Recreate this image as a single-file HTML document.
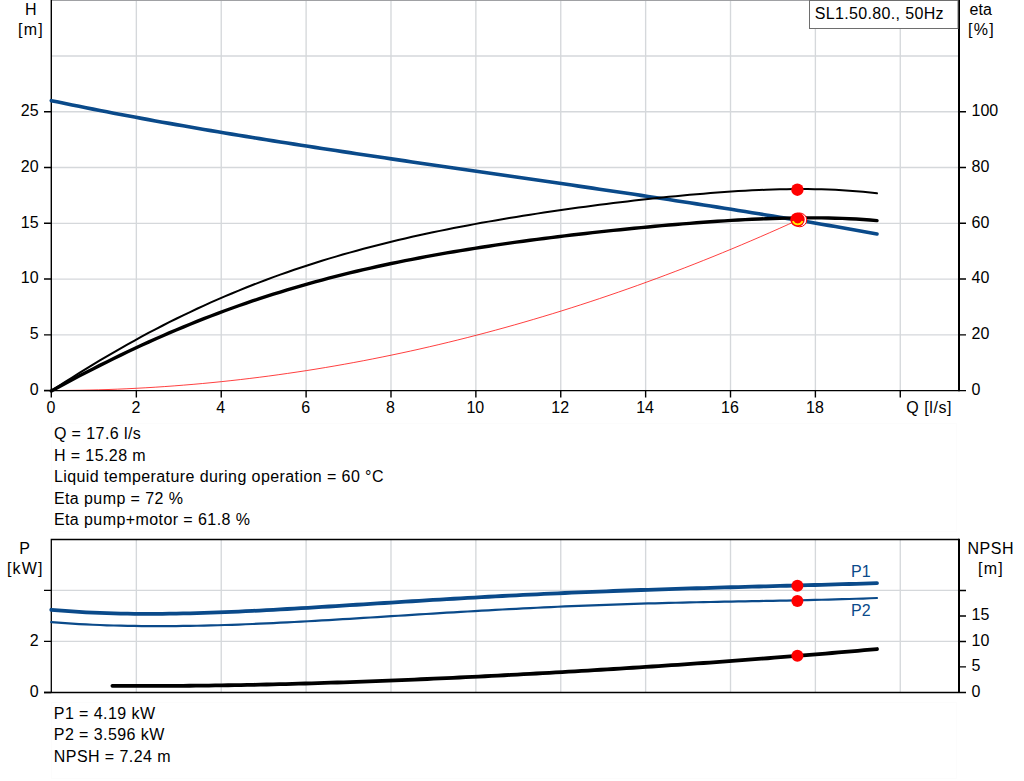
<!DOCTYPE html>
<html><head><meta charset="utf-8"><title>SL1.50.80., 50Hz</title>
<style>
html,body{margin:0;padding:0;background:#fff;width:1024px;height:781px;overflow:hidden}
svg{display:block}
text{font-family:"Liberation Sans",Arial,sans-serif;font-size:16px;fill:#000}
.ls{letter-spacing:0.4px}
</style></head><body>
<svg width="1024" height="781" viewBox="0 0 1024 781">

<rect x="51.5" y="423.5" width="905" height="108" fill="none" stroke="#fcfcfc" stroke-width="1"/>
<rect x="51.5" y="702.5" width="905" height="76" fill="none" stroke="#fcfcfc" stroke-width="1"/>
<path d="M136.35,0 V390 M221.23,0 V390 M306.11,0 V390 M390.99,0 V390 M475.87,0 V390 M560.75,0 V390 M645.63,0 V390 M730.51,0 V390 M815.39,0 V390 M900.27,0 V390 M52,334.84 H958 M52,279.07 H958 M52,223.31 H958 M52,167.54 H958 M52,111.78 H958 M52,56.01 H958" stroke="#d5d8db" stroke-width="1.35" fill="none"/>
<path d="M136.35,540 V692 M221.23,540 V692 M306.11,540 V692 M390.99,540 V692 M475.87,540 V692 M560.75,540 V692 M645.63,540 V692 M730.51,540 V692 M815.39,540 V692 M900.27,540 V692 M52,641.35 H958 M52,590.35 H958" stroke="#d5d8db" stroke-width="1.35" fill="none"/>
<path d="M51.30,390.50 L60.75,390.47 L70.21,390.39 L79.66,390.25 L89.11,390.06 L98.56,389.82 L108.02,389.52 L117.47,389.16 L126.92,388.75 L136.37,388.29 L145.83,387.77 L155.28,387.19 L164.73,386.57 L174.19,385.88 L183.64,385.14 L193.09,384.35 L202.54,383.51 L212.00,382.60 L221.45,381.65 L230.90,380.64 L240.36,379.57 L249.81,378.45 L259.26,377.28 L268.71,376.05 L278.17,374.76 L287.62,373.42 L297.07,372.03 L306.52,370.58 L315.98,369.08 L325.43,367.52 L334.88,365.91 L344.34,364.24 L353.79,362.52 L363.24,360.75 L372.69,358.91 L382.15,357.03 L391.60,355.09 L401.05,353.09 L410.50,351.05 L419.96,348.94 L429.41,346.78 L438.86,344.57 L448.32,342.30 L457.77,339.98 L467.22,337.60 L476.67,335.17 L486.13,332.68 L495.58,330.14 L505.03,327.55 L514.49,324.90 L523.94,322.19 L533.39,319.43 L542.84,316.62 L552.30,313.75 L561.75,310.83 L571.20,307.85 L580.65,304.82 L590.11,301.73 L599.56,298.59 L609.01,295.39 L618.47,292.14 L627.92,288.83 L637.37,285.47 L646.82,282.05 L656.28,278.58 L665.73,275.06 L675.18,271.48 L684.63,267.85 L694.09,264.16 L703.54,260.42 L712.99,256.62 L722.45,252.76 L731.90,248.86 L741.35,244.90 L750.80,240.88 L760.26,236.81 L769.71,232.68 L779.16,228.50 L788.62,224.27 L798.07,219.98" stroke="#ff0000" stroke-width="0.75" fill="none"/>
<rect x="52" y="0" width="906" height="1" fill="#a0a1a4"/>
<path d="M51.3,0 V391.2" stroke="#000" stroke-width="1.4" fill="none"/>
<path d="M959,0 V391.2" stroke="#000" stroke-width="2" fill="none"/>
<path d="M44,390.55 H966" stroke="#000" stroke-width="1.3" fill="none"/>
<path d="M44,334.84 H51.3 M959,334.84 H966 M44,279.07 H51.3 M959,279.07 H966 M44,223.31 H51.3 M959,223.31 H966 M44,167.54 H51.3 M959,167.54 H966 M44,111.78 H51.3 M959,111.78 H966 M44,390.55 H51.3 M136.35,390 V397.6 M221.23,390 V397.6 M306.11,390 V397.6 M390.99,390 V397.6 M475.87,390 V397.6 M560.75,390 V397.6 M645.63,390 V397.6 M730.51,390 V397.6 M815.39,390 V397.6 M900.27,390 V397.6 M51.3,390 V397.6" stroke="#000" stroke-width="1.4" fill="none"/>
<path d="M51.30,100.65 L58.24,102.09 L65.18,103.53 L72.12,104.94 L79.05,106.35 L85.99,107.74 L92.93,109.11 L99.87,110.47 L106.81,111.82 L113.75,113.15 L120.69,114.47 L127.62,115.78 L134.56,117.08 L141.50,118.37 L148.44,119.64 L155.38,120.90 L162.32,122.15 L169.26,123.39 L176.19,124.62 L183.13,125.84 L190.07,127.05 L197.01,128.24 L203.95,129.43 L210.89,130.61 L217.83,131.78 L224.76,132.95 L231.70,134.10 L238.64,135.24 L245.58,136.38 L252.52,137.51 L259.46,138.63 L266.40,139.75 L273.33,140.86 L280.27,141.96 L287.21,143.05 L294.15,144.14 L301.09,145.22 L308.03,146.30 L314.97,147.37 L321.90,148.43 L328.84,149.50 L335.78,150.55 L342.72,151.60 L349.66,152.65 L356.60,153.69 L363.53,154.73 L370.47,155.76 L377.41,156.80 L384.35,157.82 L391.29,158.85 L398.23,159.87 L405.17,160.89 L412.10,161.91 L419.04,162.92 L425.98,163.93 L432.92,164.95 L439.86,165.95 L446.80,166.96 L453.74,167.97 L460.67,168.97 L467.61,169.98 L474.55,170.98 L481.49,171.99 L488.43,172.99 L495.37,174.00 L502.31,175.00 L509.24,176.00 L516.18,177.01 L523.12,178.01 L530.06,179.02 L537.00,180.03 L543.94,181.03 L550.88,182.04 L557.81,183.06 L564.75,184.07 L571.69,185.08 L578.63,186.10 L585.57,187.12 L592.51,188.14 L599.45,189.17 L606.38,190.20 L613.32,191.23 L620.26,192.26 L627.20,193.30 L634.14,194.34 L641.08,195.38 L648.02,196.43 L654.95,197.48 L661.89,198.53 L668.83,199.59 L675.77,200.66 L682.71,201.72 L689.65,202.80 L696.59,203.87 L703.52,204.95 L710.46,206.04 L717.40,207.13 L724.34,208.23 L731.28,209.33 L738.22,210.44 L745.16,211.55 L752.09,212.67 L759.03,213.80 L765.97,214.93 L772.91,216.07 L779.85,217.21 L786.79,218.36 L793.73,219.51 L800.66,220.68 L807.60,221.85 L814.54,223.02 L821.48,224.20 L828.42,225.39 L835.36,226.59 L842.30,227.79 L849.23,229.00 L856.17,230.22 L863.11,231.45 L870.05,232.68 L876.99,233.92" stroke="#0a4a8a" stroke-width="3.6" fill="none" stroke-linecap="round"/>
<path d="M51.30,390.93 L58.24,386.40 L65.18,381.93 L72.12,377.51 L79.05,373.15 L85.99,368.85 L92.93,364.61 L99.87,360.43 L106.81,356.32 L113.75,352.27 L120.69,348.28 L127.62,344.36 L134.56,340.51 L141.50,336.72 L148.44,332.99 L155.38,329.34 L162.32,325.74 L169.26,322.22 L176.19,318.76 L183.13,315.37 L190.07,312.04 L197.01,308.78 L203.95,305.59 L210.89,302.46 L217.83,299.39 L224.76,296.39 L231.70,293.46 L238.64,290.59 L245.58,287.78 L252.52,285.03 L259.46,282.34 L266.40,279.72 L273.33,277.15 L280.27,274.64 L287.21,272.19 L294.15,269.80 L301.09,267.46 L308.03,265.18 L314.97,262.96 L321.90,260.78 L328.84,258.66 L335.78,256.59 L342.72,254.57 L349.66,252.59 L356.60,250.67 L363.53,248.79 L370.47,246.96 L377.41,245.17 L384.35,243.42 L391.29,241.72 L398.23,240.05 L405.17,238.43 L412.10,236.84 L419.04,235.29 L425.98,233.78 L432.92,232.30 L439.86,230.86 L446.80,229.45 L453.74,228.07 L460.67,226.72 L467.61,225.40 L474.55,224.11 L481.49,222.85 L488.43,221.61 L495.37,220.40 L502.31,219.21 L509.24,218.05 L516.18,216.91 L523.12,215.80 L530.06,214.70 L537.00,213.63 L543.94,212.58 L550.88,211.55 L557.81,210.53 L564.75,209.54 L571.69,208.56 L578.63,207.61 L585.57,206.67 L592.51,205.75 L599.45,204.85 L606.38,203.96 L613.32,203.10 L620.26,202.25 L627.20,201.42 L634.14,200.61 L641.08,199.82 L648.02,199.04 L654.95,198.29 L661.89,197.56 L668.83,196.84 L675.77,196.15 L682.71,195.49 L689.65,194.84 L696.59,194.22 L703.52,193.63 L710.46,193.07 L717.40,192.53 L724.34,192.03 L731.28,191.55 L738.22,191.12 L745.16,190.71 L752.09,190.35 L759.03,190.02 L765.97,189.74 L772.91,189.50 L779.85,189.31 L786.79,189.17 L793.73,189.08 L800.66,189.04 L807.60,189.07 L814.54,189.16 L821.48,189.31 L828.42,189.53 L835.36,189.82 L842.30,190.19 L849.23,190.64 L856.17,191.17 L863.11,191.80 L870.05,192.51 L876.99,193.32" stroke="#000" stroke-width="2" fill="none" stroke-linecap="round"/>
<path d="M51.30,390.95 L58.24,387.16 L65.18,383.42 L72.12,379.73 L79.05,376.07 L85.99,372.46 L92.93,368.89 L99.87,365.37 L106.81,361.90 L113.75,358.47 L120.69,355.10 L127.62,351.78 L134.56,348.50 L141.50,345.28 L148.44,342.11 L155.38,339.00 L162.32,335.93 L169.26,332.92 L176.19,329.97 L183.13,327.06 L190.07,324.21 L197.01,321.42 L203.95,318.68 L210.89,315.99 L217.83,313.35 L224.76,310.77 L231.70,308.25 L238.64,305.77 L245.58,303.35 L252.52,300.98 L259.46,298.66 L266.40,296.39 L273.33,294.18 L280.27,292.01 L287.21,289.89 L294.15,287.82 L301.09,285.80 L308.03,283.83 L314.97,281.90 L321.90,280.02 L328.84,278.18 L335.78,276.39 L342.72,274.64 L349.66,272.93 L356.60,271.26 L363.53,269.64 L370.47,268.05 L377.41,266.50 L384.35,264.99 L391.29,263.52 L398.23,262.08 L405.17,260.68 L412.10,259.31 L419.04,257.97 L425.98,256.66 L432.92,255.39 L439.86,254.15 L446.80,252.93 L453.74,251.74 L460.67,250.58 L467.61,249.45 L474.55,248.34 L481.49,247.26 L488.43,246.20 L495.37,245.16 L502.31,244.15 L509.24,243.15 L516.18,242.18 L523.12,241.23 L530.06,240.29 L537.00,239.38 L543.94,238.48 L550.88,237.60 L557.81,236.74 L564.75,235.89 L571.69,235.06 L578.63,234.25 L585.57,233.45 L592.51,232.67 L599.45,231.90 L606.38,231.15 L613.32,230.41 L620.26,229.69 L627.20,228.98 L634.14,228.29 L641.08,227.61 L648.02,226.95 L654.95,226.30 L661.89,225.67 L668.83,225.06 L675.77,224.46 L682.71,223.88 L689.65,223.32 L696.59,222.78 L703.52,222.26 L710.46,221.76 L717.40,221.29 L724.34,220.84 L731.28,220.41 L738.22,220.01 L745.16,219.64 L752.09,219.29 L759.03,218.98 L765.97,218.70 L772.91,218.46 L779.85,218.25 L786.79,218.08 L793.73,217.95 L800.66,217.87 L807.60,217.83 L814.54,217.84 L821.48,217.90 L828.42,218.01 L835.36,218.18 L842.30,218.41 L849.23,218.71 L856.17,219.07 L863.11,219.50 L870.05,220.01 L876.99,220.59" stroke="#000" stroke-width="3.4" fill="none" stroke-linecap="round"/>
<circle cx="797.4" cy="189.7" r="6.2" fill="#ff0000"/>
<circle cx="799.8" cy="219.9" r="6.9" fill="#fff" stroke="#ff0000" stroke-width="1"/>
<circle cx="797.5" cy="219.6" r="7.2" fill="#ff0000"/>
<path d="M792.8,221.2 A5.4,5.4 0 0,0 802.6,221.2" fill="none" stroke="#ffee00" stroke-width="1.8"/>
<rect x="809.5" y="0.5" width="148.5" height="28" fill="#fff" stroke="#6e6e6e" stroke-width="1"/>
<text x="814.7" y="18.9" style="letter-spacing:0.35px">SL1.50.80., 50Hz</text>
<text x="24.9" y="14.7">H</text>
<text x="18.1" y="34.9" style="letter-spacing:1.15px">[m]</text>
<text x="969.6" y="14.9">eta</text>
<text x="968.1" y="34.9" style="letter-spacing:1.2px">[%]</text>
<text x="38.6" y="394.90" text-anchor="end">0</text>
<text x="38.6" y="339.14" text-anchor="end">5</text>
<text x="38.6" y="283.37" text-anchor="end">10</text>
<text x="38.6" y="227.61" text-anchor="end">15</text>
<text x="38.6" y="171.84" text-anchor="end">20</text>
<text x="38.6" y="116.08" text-anchor="end">25</text>
<text x="971.5" y="394.90">0</text>
<text x="971.5" y="339.14">20</text>
<text x="971.5" y="283.37">40</text>
<text x="971.5" y="227.61">60</text>
<text x="971.5" y="171.84">80</text>
<text x="971.5" y="116.08">100</text>
<text x="50.97" y="412.6" text-anchor="middle">0</text>
<text x="135.85" y="412.6" text-anchor="middle">2</text>
<text x="220.73" y="412.6" text-anchor="middle">4</text>
<text x="305.61" y="412.6" text-anchor="middle">6</text>
<text x="390.49" y="412.6" text-anchor="middle">8</text>
<text x="475.37" y="412.6" text-anchor="middle">10</text>
<text x="560.25" y="412.6" text-anchor="middle">12</text>
<text x="645.13" y="412.6" text-anchor="middle">14</text>
<text x="730.01" y="412.6" text-anchor="middle">16</text>
<text x="814.89" y="412.6" text-anchor="middle">18</text>
<text x="906.2" y="412.8" style="letter-spacing:0.6px">Q [l/s]</text>
<text x="53.9" y="438.8" style="letter-spacing:0.42px">Q = 17.6 l/s</text>
<text x="53.9" y="460.6" style="letter-spacing:0.42px">H = 15.28 m</text>
<text x="53.9" y="481.9" style="letter-spacing:0.42px">Liquid temperature during operation = 60 °C</text>
<text x="53.9" y="503.7" style="letter-spacing:0.42px">Eta pump = 72 %</text>
<text x="53.9" y="525.0" style="letter-spacing:0.42px">Eta pump+motor = 61.8 %</text>
<path d="M51.3,539.5 H959 M51.3,538.8 V693.1 M44,692.5 H966" stroke="#000" stroke-width="1.3" fill="none"/>
<path d="M959,538.8 V693.1" stroke="#000" stroke-width="2" fill="none"/>
<path d="M44,641.35 H51.3 M44,590.35 H51.3 M44,692.5 H51.3 M959,666.90 H966 M959,641.45 H966 M959,616.00 H966 M959,590.55 H966" stroke="#000" stroke-width="1.4" fill="none"/>
<path d="M112.40,685.79 L118.82,685.84 L125.25,685.88 L131.67,685.91 L138.10,685.93 L144.52,685.94 L150.95,685.94 L157.38,685.94 L163.80,685.92 L170.23,685.89 L176.65,685.86 L183.08,685.81 L189.50,685.76 L195.93,685.70 L202.35,685.63 L208.78,685.55 L215.20,685.47 L221.63,685.37 L228.05,685.27 L234.48,685.16 L240.90,685.05 L247.33,684.92 L253.75,684.79 L260.18,684.66 L266.60,684.51 L273.03,684.36 L279.45,684.20 L285.88,684.04 L292.30,683.87 L298.73,683.69 L305.15,683.51 L311.58,683.32 L318.00,683.12 L324.43,682.92 L330.85,682.71 L337.28,682.50 L343.70,682.28 L350.13,682.06 L356.55,681.83 L362.98,681.60 L369.40,681.36 L375.83,681.11 L382.25,680.86 L388.68,680.61 L395.10,680.35 L401.53,680.08 L407.95,679.81 L414.38,679.54 L420.80,679.26 L427.23,678.98 L433.65,678.69 L440.08,678.40 L446.51,678.10 L452.93,677.80 L459.36,677.49 L465.78,677.18 L472.21,676.87 L478.63,676.55 L485.06,676.23 L491.48,675.90 L497.91,675.57 L504.33,675.24 L510.76,674.90 L517.18,674.56 L523.61,674.21 L530.03,673.87 L536.46,673.51 L542.88,673.15 L549.31,672.79 L555.73,672.43 L562.16,672.06 L568.58,671.69 L575.01,671.31 L581.43,670.93 L587.86,670.55 L594.28,670.16 L600.71,669.77 L607.13,669.38 L613.56,668.98 L619.98,668.57 L626.41,668.17 L632.83,667.76 L639.26,667.35 L645.68,666.93 L652.11,666.51 L658.53,666.08 L664.96,665.65 L671.38,665.22 L677.81,664.78 L684.23,664.34 L690.66,663.90 L697.08,663.45 L703.51,663.00 L709.93,662.54 L716.36,662.08 L722.79,661.61 L729.21,661.14 L735.64,660.67 L742.06,660.19 L748.49,659.71 L754.91,659.22 L761.34,658.73 L767.76,658.24 L774.19,657.73 L780.61,657.23 L787.04,656.72 L793.46,656.20 L799.89,655.68 L806.31,655.16 L812.74,654.63 L819.16,654.09 L825.59,653.55 L832.01,653.01 L838.44,652.45 L844.86,651.90 L851.29,651.33 L857.71,650.77 L864.14,650.19 L870.56,649.61 L876.99,649.02" stroke="#000" stroke-width="3.8" fill="none" stroke-linecap="round"/>
<path d="M51.30,622.17 L58.24,622.70 L65.18,623.19 L72.12,623.63 L79.05,624.04 L85.99,624.40 L92.93,624.73 L99.87,625.02 L106.81,625.28 L113.75,625.49 L120.69,625.68 L127.62,625.83 L134.56,625.95 L141.50,626.04 L148.44,626.10 L155.38,626.13 L162.32,626.13 L169.26,626.10 L176.19,626.05 L183.13,625.97 L190.07,625.87 L197.01,625.74 L203.95,625.59 L210.89,625.42 L217.83,625.23 L224.76,625.02 L231.70,624.78 L238.64,624.54 L245.58,624.27 L252.52,623.99 L259.46,623.69 L266.40,623.38 L273.33,623.05 L280.27,622.71 L287.21,622.36 L294.15,622.00 L301.09,621.63 L308.03,621.24 L314.97,620.85 L321.90,620.45 L328.84,620.05 L335.78,619.64 L342.72,619.22 L349.66,618.80 L356.60,618.37 L363.53,617.94 L370.47,617.50 L377.41,617.07 L384.35,616.63 L391.29,616.19 L398.23,615.75 L405.17,615.31 L412.10,614.88 L419.04,614.44 L425.98,614.01 L432.92,613.58 L439.86,613.15 L446.80,612.72 L453.74,612.30 L460.67,611.89 L467.61,611.48 L474.55,611.07 L481.49,610.67 L488.43,610.28 L495.37,609.89 L502.31,609.51 L509.24,609.14 L516.18,608.78 L523.12,608.42 L530.06,608.07 L537.00,607.73 L543.94,607.40 L550.88,607.07 L557.81,606.76 L564.75,606.45 L571.69,606.15 L578.63,605.87 L585.57,605.59 L592.51,605.32 L599.45,605.06 L606.38,604.80 L613.32,604.56 L620.26,604.33 L627.20,604.10 L634.14,603.88 L641.08,603.67 L648.02,603.47 L654.95,603.28 L661.89,603.09 L668.83,602.92 L675.77,602.74 L682.71,602.58 L689.65,602.42 L696.59,602.27 L703.52,602.12 L710.46,601.98 L717.40,601.84 L724.34,601.70 L731.28,601.57 L738.22,601.44 L745.16,601.31 L752.09,601.19 L759.03,601.06 L765.97,600.93 L772.91,600.80 L779.85,600.67 L786.79,600.53 L793.73,600.40 L800.66,600.25 L807.60,600.10 L814.54,599.94 L821.48,599.77 L828.42,599.60 L835.36,599.41 L842.30,599.21 L849.23,599.00 L856.17,598.77 L863.11,598.53 L870.05,598.27 L876.99,597.99" stroke="#0a4a8a" stroke-width="2.2" fill="none" stroke-linecap="round"/>
<path d="M51.30,609.77 L58.24,610.39 L65.18,610.95 L72.12,611.45 L79.05,611.90 L85.99,612.30 L92.93,612.65 L99.87,612.95 L106.81,613.20 L113.75,613.41 L120.69,613.58 L127.62,613.70 L134.56,613.79 L141.50,613.84 L148.44,613.86 L155.38,613.84 L162.32,613.79 L169.26,613.71 L176.19,613.60 L183.13,613.46 L190.07,613.30 L197.01,613.11 L203.95,612.90 L210.89,612.67 L217.83,612.41 L224.76,612.14 L231.70,611.85 L238.64,611.55 L245.58,611.22 L252.52,610.89 L259.46,610.54 L266.40,610.17 L273.33,609.80 L280.27,609.42 L287.21,609.02 L294.15,608.62 L301.09,608.21 L308.03,607.80 L314.97,607.37 L321.90,606.95 L328.84,606.51 L335.78,606.08 L342.72,605.64 L349.66,605.20 L356.60,604.76 L363.53,604.32 L370.47,603.88 L377.41,603.44 L384.35,602.99 L391.29,602.55 L398.23,602.12 L405.17,601.68 L412.10,601.25 L419.04,600.82 L425.98,600.39 L432.92,599.97 L439.86,599.55 L446.80,599.14 L453.74,598.73 L460.67,598.32 L467.61,597.93 L474.55,597.53 L481.49,597.15 L488.43,596.77 L495.37,596.39 L502.31,596.02 L509.24,595.66 L516.18,595.30 L523.12,594.95 L530.06,594.61 L537.00,594.28 L543.94,593.95 L550.88,593.62 L557.81,593.31 L564.75,593.00 L571.69,592.70 L578.63,592.40 L585.57,592.11 L592.51,591.83 L599.45,591.55 L606.38,591.28 L613.32,591.01 L620.26,590.76 L627.20,590.50 L634.14,590.26 L641.08,590.01 L648.02,589.78 L654.95,589.54 L661.89,589.32 L668.83,589.10 L675.77,588.88 L682.71,588.66 L689.65,588.45 L696.59,588.25 L703.52,588.04 L710.46,587.84 L717.40,587.65 L724.34,587.45 L731.28,587.26 L738.22,587.07 L745.16,586.88 L752.09,586.69 L759.03,586.50 L765.97,586.31 L772.91,586.13 L779.85,585.94 L786.79,585.75 L793.73,585.56 L800.66,585.38 L807.60,585.18 L814.54,584.99 L821.48,584.80 L828.42,584.60 L835.36,584.40 L842.30,584.19 L849.23,583.99 L856.17,583.78 L863.11,583.56 L870.05,583.34 L876.99,583.11" stroke="#0a4a8a" stroke-width="3.8" fill="none" stroke-linecap="round"/>
<circle cx="797.4" cy="585.7" r="6" fill="#ff0000"/>
<circle cx="797.4" cy="601.0" r="6" fill="#ff0000"/>
<circle cx="797.4" cy="655.8" r="6" fill="#ff0000"/>
<text x="851" y="576.6" style="fill:#0a4a8a">P1</text>
<text x="851" y="615.7" style="fill:#0a4a8a">P2</text>
<text x="19.3" y="553.6">P</text>
<text x="6.9" y="573.9" style="letter-spacing:1.2px">[kW]</text>
<text x="967.5" y="553.6" style="letter-spacing:0.55px">NPSH</text>
<text x="978.1" y="573.9" style="letter-spacing:1.2px">[m]</text>
<text x="38.6" y="696.65" text-anchor="end">0</text>
<text x="38.6" y="645.65" text-anchor="end">2</text>
<text x="971.5" y="696.65">0</text>
<text x="971.5" y="671.20">5</text>
<text x="971.5" y="645.75">10</text>
<text x="971.5" y="620.30">15</text>
<text x="53.8" y="718.90" style="letter-spacing:0.43px">P1 = 4.19 kW</text>
<text x="53.8" y="740.30" style="letter-spacing:0.43px">P2 = 3.596 kW</text>
<text x="53.8" y="761.70" style="letter-spacing:0.43px">NPSH = 7.24 m</text>
</svg></body></html>
